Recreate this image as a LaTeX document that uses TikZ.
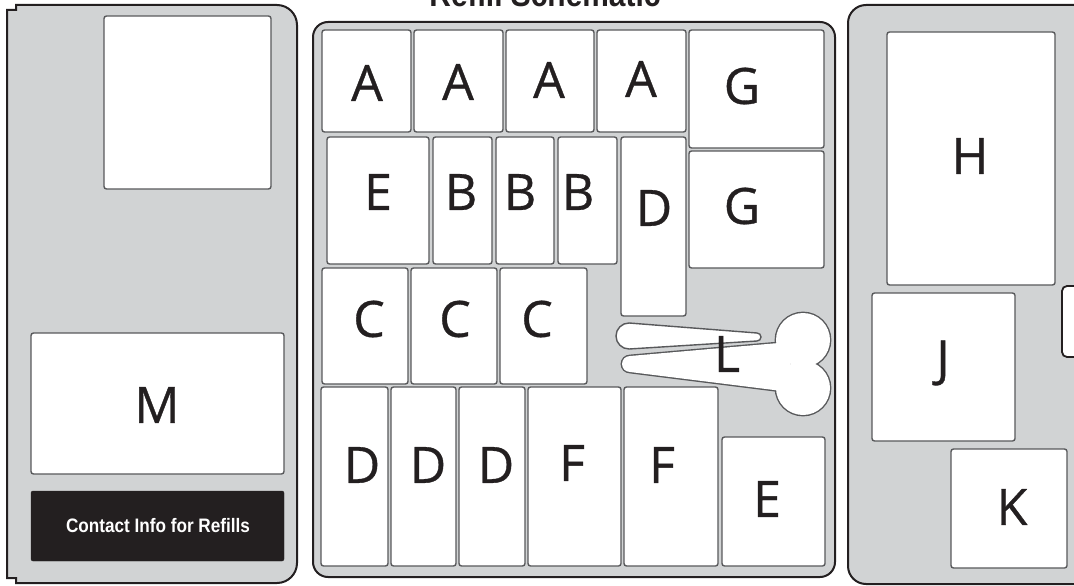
\documentclass[tikz,border=0pt]{standalone}
\usepackage{fontspec}
\setmainfont{Open Sans}
\newfontfamily\letterfont[FakeBold=0.7]{Open Sans}
\newfontfamily\condbold[FakeStretch=0.88]{Liberation Sans}
\definecolor{panelgray}{HTML}{D1D3D4}
\definecolor{ink}{HTML}{231F20}
\definecolor{boxline}{HTML}{58595B}
\tikzset{
  panel/.style={fill=panelgray, draw=ink, line width=2},
  cell/.style={fill=white, draw=boxline, line width=1.4, rounded corners=2.5},
  lbl/.style={font=\letterfont\fontsize{50}{50}\selectfont, text=ink, inner sep=0},
  titletext/.style={font=\condbold\bfseries\fontsize{34}{34}\selectfont, text=ink, inner sep=0},
  contacttext/.style={font=\condbold\bfseries\fontsize{19.5}{20}\selectfont, text=white, inner sep=0},
  lshape/.style={fill=white, draw=boxline, line width=1.4}
}
\begin{document}
\begin{tikzpicture}[x=1pt,y=-1pt]
\useasboundingbox (0,0) rectangle (1074,586);
\begin{scope}
\clip (0,0) rectangle (1074,586);
% title (cut off at the top, as in the reference)
\node[titletext, anchor=base] (title) at (545,7) {Refill Schematic};

% ---------- left panel ----------
\draw[panel] (16,5) -- (277,5) arc[start angle=-90,end angle=0,radius=20]
  -- (297,563) arc[start angle=0,end angle=90,radius=20]
  -- (16,583) -- (16,578) -- (7,578) -- (7,10) -- (16,10) -- cycle;
\draw[cell] (104,16) rectangle (271,189);
\draw[cell] (31,333) rectangle (284,474);
\node[lbl] (M) at (157,405) {M};
\draw[fill=ink, draw=ink, rounded corners=2] (31,491) rectangle (284,561);
\node[contacttext] (contact) at (158,526) {Contact Info for Refills};

% ---------- middle panel ----------
\draw[panel, rounded corners=15] (313,22) rectangle (835,577);
% row A
\draw[cell] (322,30) rectangle (411,132);
\draw[cell] (414,30) rectangle (503,132);
\draw[cell] (506,30) rectangle (594,132);
\draw[cell] (597,30) rectangle (686,132);
\draw[cell] (689,30) rectangle (824,148);
\draw[cell] (689,151) rectangle (824,268);
\node[lbl] (a1) at (367,83) {A};
\node[lbl] (a2) at (458,82) {A};
\node[lbl] (a3) at (549,80) {A};
\node[lbl] (a4) at (641,79) {A};
\node[lbl] (g1) at (742,86) {G};
\node[lbl] (g2) at (742,206) {G};
% row E B B B D
\draw[cell] (327,137) rectangle (429,264);
\draw[cell] (433,137) rectangle (492,264);
\draw[cell] (496,137) rectangle (554,264);
\draw[cell] (558,137) rectangle (617,264);
\draw[cell] (621,137) rectangle (686,316);
\node[lbl] (e1) at (378,192) {E};
\node[lbl] (b1) at (461,192) {B};
\node[lbl] (b2) at (520,192) {B};
\node[lbl] (b3) at (578,192) {B};
\node[lbl] (d0) at (654,208) {D};
% row C
\draw[cell] (322,268) rectangle (408,384);
\draw[cell] (411,268) rectangle (497,384);
\draw[cell] (500,268) rectangle (587,384);
\node[lbl] (c1) at (369,319) {C};
\node[lbl] (c2) at (455,319) {C};
\node[lbl] (c3) at (537,319) {C};
% bottom row
\draw[cell] (321,387) rectangle (388,566);
\draw[cell] (391,387) rectangle (456,566);
\draw[cell] (459,387) rectangle (525,566);
\draw[cell] (528,387) rectangle (621,566);
\draw[cell] (624,387) rectangle (718,566);
\draw[cell] (722,437) rectangle (825,566);
\node[lbl] (d1) at (362,465) {D};
\node[lbl] (d2) at (428,465) {D};
\node[lbl] (d3) at (496,465) {D};
\node[lbl] (f1) at (572,463) {F};
\node[lbl] (f2) at (662,465) {F};
\node[lbl] (e2) at (767,499) {E};
% L shape: outline of the union, then white fill
\begin{scope}
\draw[draw=boxline, line width=2.8]
  (630,356) -- (790,342) -- (790,392) -- (630,372) arc[start angle=90,end angle=270,radius=8] -- cycle;
\draw[draw=boxline, line width=2.8] (803,340) circle[radius=27];
\draw[draw=boxline, line width=2.8] (803,388) circle[radius=27];
\fill[white]
  (630,356) -- (790,342) -- (790,392) -- (630,372) arc[start angle=90,end angle=270,radius=8] -- cycle;
\fill[white] (803,340) circle[radius=27];
\fill[white] (803,388) circle[radius=27];
\end{scope}
\draw[lshape] (629,323) -- (757,333) arc[start angle=-90,end angle=90,radius=4]
  -- (629,349) arc[start angle=90,end angle=270,radius=13] -- cycle;
\node[lbl] (l) at (727,354) {L};

% ---------- right panel ----------
\draw[panel, rounded corners=18] (1110,5) -- (848,5) -- (848,584) -- (1110,584) -- cycle;
\draw[cell] (887,32) rectangle (1055,285);
\draw[cell] (872,293) rectangle (1015,441);
\draw[cell] (951,449) rectangle (1067,568);
\draw[fill=white, draw=ink, line width=1.8, rounded corners=5] (1062,286) rectangle (1100,357);
\node[lbl] (h) at (970,156) {H};
\node[lbl] (j) at (943,363) {J};
\node[lbl] (k) at (1012,507) {K};
\end{scope}
\end{tikzpicture}
\end{document}
